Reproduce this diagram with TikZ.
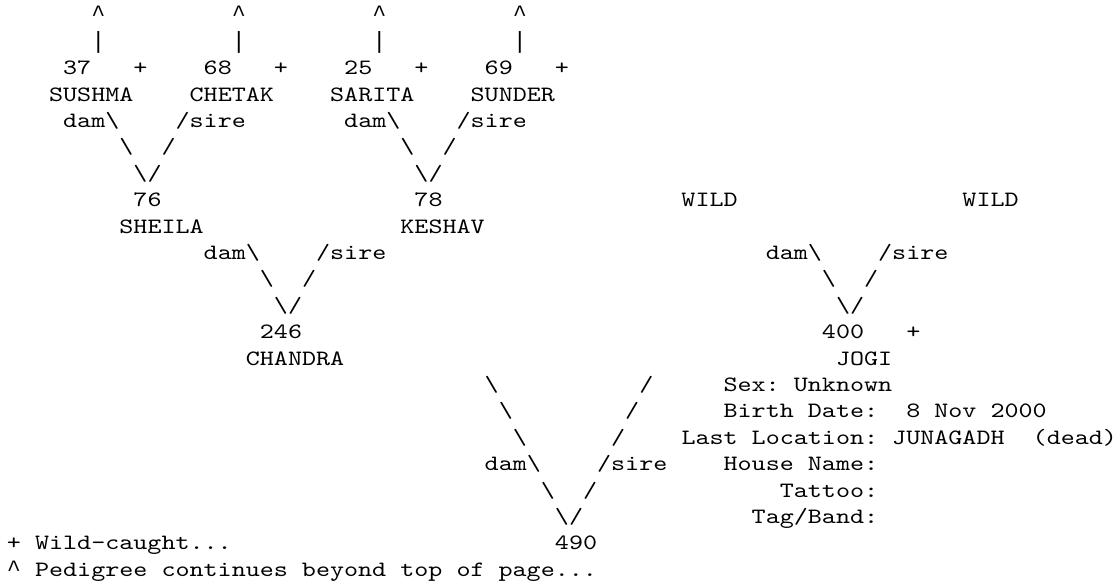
\documentclass[tikz,border=0pt]{standalone}
\usepackage{fontspec}
\setmonofont[FakeStretch=1.222]{Latin Modern Mono}
\newfontfamily\markfont{Liberation Mono}
\newcommand{\pedfont}{\ttfamily\fontsize{10.95pt}{13.2pt}\selectfont}
% one dam/sire fork: #1 name, #2 column of "dam\", #3 row
\newcommand{\damsire}[3]{%
  \node[txt] (#1dam)  at (#2,#3)     {dam\textbackslash};
  \node[txt] (#1sire) at (#2+8,#3)   {/sire};
  \node[txt] (#1dl)   at (#2+4,#3+1) {\textbackslash};
  \node[txt] (#1sl)   at (#2+7,#3+1) {/};
  \node[txt] (#1dv)   at (#2+5,#3+2) {\textbackslash};
  \node[txt] (#1sv)   at (#2+6,#3+2) {/};}
\tikzset{txt/.style={inner sep=0pt,outer sep=0pt,anchor=base west,font=\pedfont},
  lbl/.style={txt,anchor=base east},
  upmark/.style={txt,font=\markfont\fontsize{11.71pt}{13.2pt}\selectfont}}

\begin{document}
\begin{tikzpicture}[x=7.027pt,y=-13.2pt]
    \useasboundingbox (-0.498,0.167) rectangle (79.07,22.44);
    % top generation, pedigree goes on above
    \foreach \c/\id/\nm in {4/37/SUSHMA,14/68/CHETAK,24/25/SARITA,34/69/SUNDER}{
      \node[upmark] (\id up)  at (\c+2,1) {\textasciicircum};
      \node[upmark] (\id bar) at (\c+2,2) {|};
      \node[txt] (\id)     at (\c,3)   {\id};
      \node[txt] (\id wc)  at (\c+5,3) {+};
      \node[txt] (\id nm)  at (\c-1,4) {\nm};}
    \damsire{sheila}{4}{5}  \damsire{keshav}{24}{5}
    % parents of 246 and 400
    \node[txt] (76) at (9,8) {76};    \node[txt] (76nm) at (8,9) {SHEILA};
    \node[txt] (78) at (29,8) {78};   \node[txt] (78nm) at (28,9) {KESHAV};
    \node[txt] (wilddam)  at (48,8) {WILD};
    \node[txt] (wildsire) at (68,8) {WILD};
    \damsire{chandra}{14}{10}  \damsire{jogi}{54}{10}
    \node[txt] (246) at (18,13) {246};  \node[txt] (246nm) at (17,14) {CHANDRA};
    \node[txt] (400) at (58,13) {400};  \node[txt] (400wc) at (64,13) {+};
    \node[txt] (400nm) at (59,14) {JOGI};
    % long legs down to 490
    \foreach \r in {0,1,2}{
      \node[txt] (legd\r) at (34+\r,15+\r) {\textbackslash};
      \node[txt] (legs\r) at (45-\r,15+\r) {/};}
    \damsire{main}{34}{18}
    \node[txt] (490) at (39,21) {490};
    % data of JOGI
    \node[txt] (sex) at (51,15) {Sex:};  \node[txt] (sexv) at (56,15) {Unknown};
    \node[lbl] (birth) at (62,16) {Birth Date:};  \node[txt] (birthv) at (64,16) {8 Nov 2000};
    \node[lbl] (loc) at (62,17) {Last Location:};  \node[txt] (locv) at (63,17) {JUNAGADH};
    \node[txt] (dead) at (73,17) {(dead)};
    \node[lbl] (house) at (62,18) {House Name:};
    \node[lbl] (tattoo) at (62,19) {Tattoo:};
    \node[lbl] (tag) at (62,20) {Tag/Band:};
    % legend
    \node[txt] (keywc) at (0,21) {+ Wild-caught...};
    \node[upmark] (keyup) at (0,22) {\textasciicircum};
    \node[txt] (keytxt) at (2,22) {Pedigree continues beyond top of page...};
\end{tikzpicture}
\end{document}
